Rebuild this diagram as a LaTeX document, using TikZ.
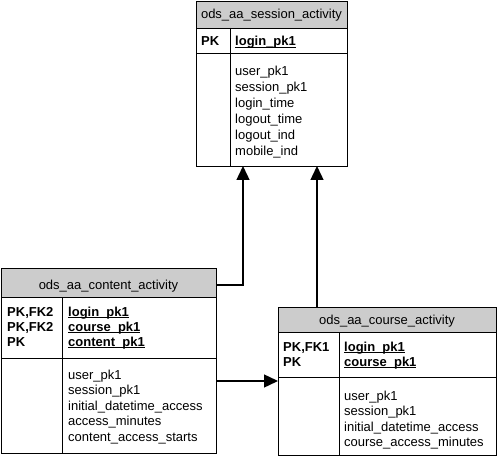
\documentclass[tikz,border=0pt]{standalone}
\usepackage{fontspec}
\setmainfont{Liberation Sans}
\usetikzlibrary{arrows.meta}
\definecolor{hgray}{HTML}{CCCCCC}
\newcommand\keyul[1]{\setbox0\hbox{#1}\rlap{\rule[-2.3pt]{\wd0}{1pt}}\box0}
\begin{document}
\begin{tikzpicture}[x=1pt,y=-1pt,
  box/.style={draw, line width=0.8pt, inner sep=0pt, anchor=north west},
  hbox/.style={box, fill=hgray},
  ttl/.style={font=\fontsize{13}{16}\selectfont, inner sep=0pt, anchor=base},
  fld/.style={font=\fontsize{13}{16}\selectfont, inner sep=0pt, anchor=base west},
  key/.style={fld, font=\fontsize{13}{16}\selectfont\bfseries},
  conn/.style={line width=1.4pt},
  arr/.style={conn, -{Triangle[width=13pt,length=14pt]}},
  div/.style={line width=0.8pt}]
\useasboundingbox (0,0) rectangle (498,457);
% session table
\node[hbox, minimum width=151pt, minimum height=27pt] (s-h) at (196,1) {};
\node[box, minimum width=151pt, minimum height=25pt] (s-k) at (196,28) {};
\node[box, minimum width=151pt, minimum height=113pt] (s-b) at (196,53) {};
\draw[div] (230,28) -- (230,166);
\node[ttl] (s-t) at (271.5,19) {ods\_aa\_session\_activity};
\node[key] (s-k1) at (201,46) {PK};
\node[key] (s-f1) at (235,46) {\keyul{login\_pk1}};
\node[fld] (s-b1) at (235,76) {user\_pk1};
\node[fld] (s-b2) at (235,92) {session\_pk1};
\node[fld] (s-b3) at (235,108) {login\_time};
\node[fld] (s-b4) at (235,124) {logout\_time};
\node[fld] (s-b5) at (235,140) {logout\_ind};
\node[fld] (s-b6) at (235,156) {mobile\_ind};
% content table
\node[hbox, minimum width=215pt, minimum height=29pt] (c-h) at (1,268) {};
\node[box, minimum width=215pt, minimum height=61pt] (c-k) at (1,297) {};
\node[box, minimum width=215pt, minimum height=95pt] (c-b) at (1,358) {};
\draw[div] (62,297) -- (62,453);
\node[ttl] (c-t) at (108.5,289) {ods\_aa\_content\_activity};
\node[key] (c-k1) at (7,316) {PK,FK2};
\node[key] (c-k2) at (7,331) {PK,FK2};
\node[key] (c-k3) at (7,346) {PK};
\node[key] (c-f1) at (68,316) {\keyul{login\_pk1}};
\node[key] (c-f2) at (68,331) {\keyul{course\_pk1}};
\node[key] (c-f3) at (68,346) {\keyul{content\_pk1}};
\node[fld] (c-b1) at (68,379) {user\_pk1};
\node[fld] (c-b2) at (68,394.5) {session\_pk1};
\node[fld] (c-b3) at (68,410) {initial\_datetime\_access};
\node[fld] (c-b4) at (68,425.5) {access\_minutes};
\node[fld] (c-b5) at (68,441) {content\_access\_starts};
% course table
\node[hbox, minimum width=218pt, minimum height=25pt] (r-h) at (278,307) {};
\node[box, minimum width=218pt, minimum height=45pt] (r-k) at (278,332) {};
\node[box, minimum width=218pt, minimum height=78pt] (r-b) at (278,377) {};
\draw[div] (339,332) -- (339,455);
\node[ttl] (r-t) at (387,324) {ods\_aa\_course\_activity};
\node[key] (r-k1) at (283,351) {PK,FK1};
\node[key] (r-k2) at (283,366) {PK};
\node[key] (r-f1) at (344,351) {\keyul{login\_pk1}};
\node[key] (r-f2) at (344,366) {\keyul{course\_pk1}};
\node[fld] (r-b1) at (344,400) {user\_pk1};
\node[fld] (r-b2) at (344,415.5) {session\_pk1};
\node[fld] (r-b3) at (344,431) {initial\_datetime\_access};
\node[fld] (r-b4) at (344,446.5) {course\_access\_minutes};
% connector end points
\coordinate (s-in1) at (243,166);
\coordinate (s-in2) at (317,166);
\coordinate (c-out1) at (216,285);
\coordinate (c-out2) at (216,381);
\coordinate (r-out) at (317,307);
\coordinate (r-in) at (278,381);
\draw[arr] (c-out1) -| (s-in1);
\draw[arr] (r-out) -- (s-in2);
\draw[arr] (c-out2) -- (r-in);
\end{tikzpicture}
\end{document}
